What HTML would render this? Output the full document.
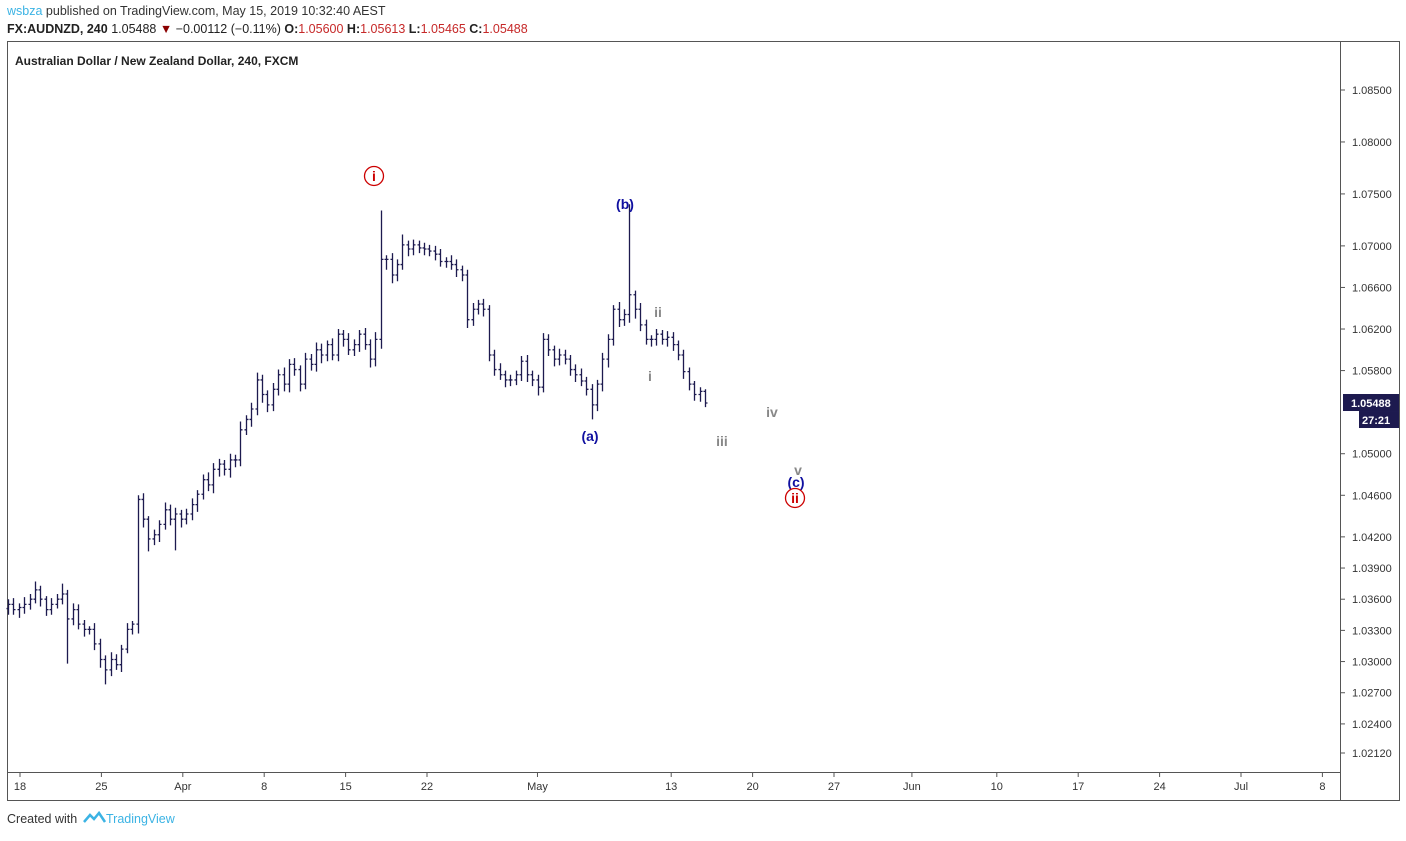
<!DOCTYPE html>
<html><head><meta charset="utf-8"><style>
body{margin:0;background:#fff;font-family:"Liberation Sans",sans-serif;}
svg text{font-family:"Liberation Sans",sans-serif;}
</style></head><body>
<svg id="chart" width="1406" height="836" viewBox="0 0 1406 836" xmlns="http://www.w3.org/2000/svg">
<rect width="1406" height="836" fill="#fff"/>
<text x="7" y="15" font-size="12.5"><tspan fill="#3bb3e4">wsbza</tspan><tspan fill="#333"> published on TradingView.com, May 15, 2019 10:32:40 AEST</tspan></text>
<text x="7" y="33" font-size="12.5" fill="#222"><tspan font-weight="bold">FX:AUDNZD, 240</tspan> 1.05488 <tspan fill="#8b0000">▼</tspan> −0.00112 (−0.11%) <tspan font-weight="bold">O:</tspan><tspan fill="#c62828">1.05600</tspan> <tspan font-weight="bold">H:</tspan><tspan fill="#c62828">1.05613</tspan> <tspan font-weight="bold">L:</tspan><tspan fill="#c62828">1.05465</tspan> <tspan font-weight="bold">C:</tspan><tspan fill="#c62828">1.05488</tspan></text>
<rect x="7.5" y="41.5" width="1392" height="759" fill="none" stroke="#555"/>
<line x1="1340.5" y1="41" x2="1340.5" y2="800" stroke="#555"/>
<line x1="7" y1="772.5" x2="1340" y2="772.5" stroke="#555"/>
<text x="15" y="65" font-size="12" font-weight="bold" fill="#222">Australian Dollar / New Zealand Dollar, 240, FXCM</text>
<g id="bars"></g>
<g id="yticks"></g>
<g id="xticks"></g>
<g id="waves"></g>
<text x="7" y="823" font-size="12.5" fill="#333">Created with</text>
<path d="M84 822 l6 -7 l4 4 l5 -6 l6 9" fill="none" stroke="#3bb3e4" stroke-width="2.5"/>
<text x="106" y="823" font-size="12.5" fill="#3bb3e4">TradingView</text>
</svg>
<script>
const closes=[1.0355,1.0350,1.0352,1.0355,1.0360,1.0369,1.0360,1.0350,1.0355,1.0360,
1.0365,1.0341,1.0350,1.0336,1.0331,1.0331,1.0317,1.0302,1.0292,1.0302,
1.0297,1.0312,1.0331,1.0336,1.0456,1.0437,1.0418,1.0422,1.0432,1.0446,
1.0437,1.0442,1.0437,1.0442,1.0451,1.0461,1.0475,1.0470,1.0485,1.0490,
1.0485,1.0494,1.0494,1.0523,1.0533,1.0543,1.0571,1.0557,1.0547,1.0562,
1.0576,1.0567,1.0586,1.0581,1.0567,1.0591,1.0586,1.0600,1.0595,1.0605,
1.0595,1.0615,1.0610,1.0600,1.0605,1.0615,1.0605,1.0591,1.0610,1.0687,
1.0687,1.0672,1.0682,1.0701,1.0697,1.0701,1.0698,1.0697,1.0695,1.0692,
1.0685,1.0685,1.0682,1.0677,1.0672,1.0629,1.0639,1.0644,1.0639,1.0595,
1.0581,1.0576,1.0571,1.0571,1.0576,1.0589,1.0576,1.0571,1.0564,1.0610,
1.0600,1.0591,1.0595,1.0591,1.0581,1.0576,1.0570,1.0562,1.0547,1.0567,
1.0591,1.0610,1.0639,1.0629,1.0634,1.0653,1.0639,1.0624,1.0610,1.0610,
1.0615,1.0610,1.0612,1.0605,1.0595,1.0579,1.0567,1.0557,1.0560,1.05488];
const upWick=[5,6,4,7,5,8,4,3,6,5, 10,4,6,5,4,3,6,5,4,7, 5,4,6,3,4,6,3,5,4,7, 5,6,4,5,6,4,5,7,6,5, 4,6,5,8,4,6,7,5,4,6, 5,7,5,6,4,6,5,7,6,4, 6,5,4,6,5,4,6,5,7,47, 4,6,5,10,4,5,4,5,4,5, 5,4,6,5,4,5,6,4,5,4, 5,6,4,5,4,5,6,4,5,6, 5,4,6,5,4,5,6,4,5,4, 6,5,4,7,5,87,4,6,5,4, 5,4,6,5,4,5,4,3,4,2];
const downWick=[6,5,8,6,5,4,7,6,5,4, 5,43,6,5,7,5,6,8,14,6, 5,7,4,5,9,8,12,6,7,5, 6,30,8,5,6,7,5,6,8,7, 6,8,7,6,5,7,6,8,7,6, 6,7,8,6,7,5,6,7,8,6, 5,6,7,5,6,7,5,8,7,9, 10,8,6,5,7,6,5,6,5,6, 5,6,5,7,6,8,6,5,7,6, 6,5,7,6,5,6,7,6,8,5, 6,7,6,5,6,7,5,6,14,6, 7,8,6,7,6,8,9,6,5,7, 6,5,7,6,5,7,6,6,7,4];
const yTickVals=[1.085,1.080,1.075,1.070,1.066,1.062,1.058,1.050,1.046,1.042,1.039,1.036,1.033,1.030,1.027,1.024,1.0212];
const xTickLabels=["18","25","Apr","8","15","22","May","13","20","27","Jun","10","17","24","Jul","8"];
const xTickDays=[0,7,14,21,28,35,44.5,56,63,70,76.7,84,91,98,105,112];
const waveLabels=[["i",374,176,"#c00","circle"],["(b)",625,204,"#1010a0",""],["(a)",590,436,"#1010a0",""],["ii",658,312,"#888",""],["i",650,376,"#888",""],["iii",722,441,"#888",""],["iv",772,412,"#888",""],["v",798,470,"#888",""],["(c)",796,482,"#1010a0",""],["ii",795,498,"#c00","circle"]];
const NS="http://www.w3.org/2000/svg";
const yScale=p=>90+(1.085-p)*10392;
const barX=i=>8+i*((705-8)/(closes.length-1));
const dayX=d=>20+d*(81.4/7);
const bars=document.getElementById('bars');
for(let i=0;i<closes.length;i++){
  const o=i?closes[i-1]:closes[0]-0.0004, c=closes[i];
  const hi=Math.max(o,c)+upWick[i]*0.0001, lo=Math.min(o,c)-downWick[i]*0.0001;
  const x=Math.round(barX(i))+0.5;
  const p=document.createElementNS(NS,'path');
  p.setAttribute('d',`M${x} ${yScale(hi)}V${yScale(lo)}M${x-2} ${yScale(o)}H${x}M${x} ${yScale(c)}H${x+2}`);
  p.setAttribute('stroke','#1d1a4f');p.setAttribute('stroke-width','1.3');p.setAttribute('fill','none');
  
  
  bars.appendChild(p);
}
const yt=document.getElementById('yticks');
yTickVals.forEach(v=>{
  const y=yScale(v);
  const l=document.createElementNS(NS,'line');
  l.setAttribute('x1',1340);l.setAttribute('x2',1345);l.setAttribute('y1',y);l.setAttribute('y2',y);l.setAttribute('stroke','#555');
  
  
  yt.appendChild(l);
  const t=document.createElementNS(NS,'text');
  t.setAttribute('x',1352);t.setAttribute('y',y+4);t.setAttribute('font-size','11');t.setAttribute('fill','#333');
  t.textContent=v.toFixed(5);
  
  
  yt.appendChild(t);
});
const lastY=yScale(closes[closes.length-1]);
const lr=document.createElementNS(NS,'rect');
lr.setAttribute('x',1343);lr.setAttribute('y',lastY-9);lr.setAttribute('width',56);lr.setAttribute('height',17);lr.setAttribute('fill','#1d1a4f');


yt.appendChild(lr);
const lt=document.createElementNS(NS,'text');
lt.setAttribute('x',1351);lt.setAttribute('y',lastY+4);lt.setAttribute('font-size','11');lt.setAttribute('font-weight','bold');lt.setAttribute('fill','#fff');
lt.textContent=closes[closes.length-1].toFixed(5);


yt.appendChild(lt);
const cr=document.createElementNS(NS,'rect');
cr.setAttribute('x',1359);cr.setAttribute('y',lastY+8);cr.setAttribute('width',40);cr.setAttribute('height',17);cr.setAttribute('fill','#1d1a4f');


yt.appendChild(cr);
const ct=document.createElementNS(NS,'text');
ct.setAttribute('x',1362);ct.setAttribute('y',lastY+21);ct.setAttribute('font-size','11');ct.setAttribute('font-weight','bold');ct.setAttribute('fill','#fff');
ct.textContent='27:21';


yt.appendChild(ct);
const xt=document.getElementById('xticks');
xTickLabels.forEach((lab,i)=>{
  const x=dayX(xTickDays[i]);
  const l=document.createElementNS(NS,'line');
  l.setAttribute('x1',x);l.setAttribute('x2',x);l.setAttribute('y1',772);l.setAttribute('y2',777);l.setAttribute('stroke','#555');
  
  
  xt.appendChild(l);
  const t=document.createElementNS(NS,'text');
  t.setAttribute('x',x);t.setAttribute('y',790);t.setAttribute('font-size','11');t.setAttribute('fill','#333');t.setAttribute('text-anchor','middle');
  t.textContent=lab;
  
  
  xt.appendChild(t);
});
const wv=document.getElementById('waves');
waveLabels.forEach(w=>{
  if(w[4]==='circle'){
    const c=document.createElementNS(NS,'circle');
    c.setAttribute('cx',w[1]);c.setAttribute('cy',w[2]);c.setAttribute('r',9.5);c.setAttribute('fill','#fff');c.setAttribute('stroke',w[3]);c.setAttribute('stroke-width','1.3');
    
    
    wv.appendChild(c);
  }
  const t=document.createElementNS(NS,'text');
  t.setAttribute('x',w[1]);t.setAttribute('y',w[2]+5);t.setAttribute('font-size','14');t.setAttribute('font-weight','bold');t.setAttribute('fill',w[3]);t.setAttribute('text-anchor','middle');
  t.textContent=w[0];
  
  
  wv.appendChild(t);
});
</script>
</body></html>
